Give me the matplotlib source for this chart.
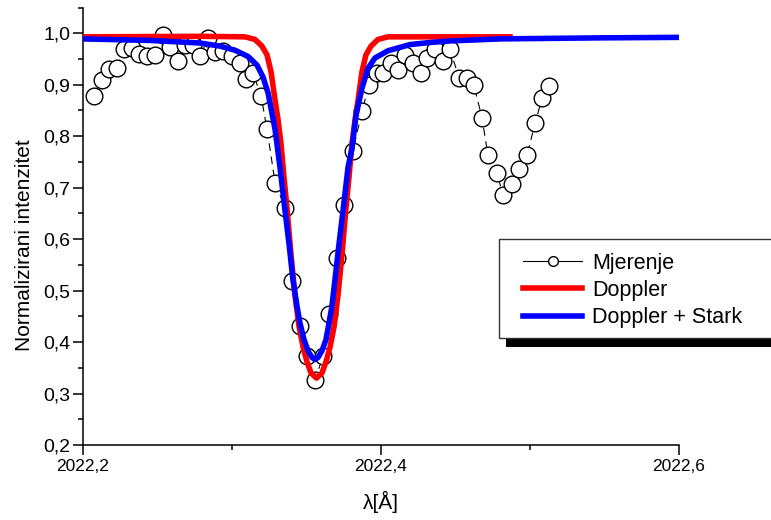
import numpy as np
import matplotlib
matplotlib.use("Agg")
import matplotlib.pyplot as plt
from matplotlib.lines import Line2D
from matplotlib.patches import Rectangle
from matplotlib.ticker import MultipleLocator, FuncFormatter

plt.rcParams['font.family'] = ['Liberation Sans', 'DejaVu Sans']

lam_meas = [2022.2074, 2022.2128, 2022.2174, 2022.2228, 2022.2275, 2022.2329, 2022.2376,
            2022.2430, 2022.2483, 2022.2537, 2022.2584, 2022.2638, 2022.2685, 2022.2738,
            2022.2785, 2022.2839, 2022.2886, 2022.2940, 2022.3000, 2022.3054, 2022.3094,
            2022.3141, 2022.3195, 2022.3235, 2022.3289, 2022.3356, 2022.3403, 2022.3456,
            2022.3503, 2022.3557, 2022.3611, 2022.3651, 2022.3705, 2022.3752, 2022.3812,
            2022.3872, 2022.3919, 2022.3973, 2022.4013, 2022.4067, 2022.4114, 2022.4161,
            2022.4215, 2022.4268, 2022.4309, 2022.4362, 2022.4416, 2022.4463, 2022.4523,
            2022.4577, 2022.4624, 2022.4678, 2022.4718, 2022.4779, 2022.4819, 2022.4879,
            2022.4926, 2022.4980, 2022.5034, 2022.5081, 2022.5128]
int_meas = [0.879, 0.909, 0.931, 0.932, 0.970, 0.972, 0.959,
            0.955, 0.957, 0.996, 0.973, 0.946, 0.978, 0.977,
            0.955, 0.990, 0.963, 0.966, 0.955, 0.942, 0.911,
            0.922, 0.879, 0.813, 0.710, 0.661, 0.519, 0.432,
            0.372, 0.327, 0.372, 0.455, 0.564, 0.667, 0.772,
            0.848, 0.899, 0.922, 0.922, 0.942, 0.928, 0.957,
            0.942, 0.922, 0.951, 0.969, 0.947, 0.969, 0.914,
            0.914, 0.899, 0.835, 0.763, 0.728, 0.685, 0.708,
            0.737, 0.763, 0.825, 0.874, 0.897]

# Doppler fit
lam_dop = [2022.2000, 2022.2785, 2022.3087, 2022.3154, 2022.3201, 2022.3235, 2022.3262,
           2022.3289, 2022.3309, 2022.3329, 2022.3349, 2022.3369, 2022.3396, 2022.3423,
           2022.3450, 2022.3477, 2022.3503, 2022.3530, 2022.3567, 2022.3604, 2022.3631,
           2022.3658, 2022.3685, 2022.3711, 2022.3738, 2022.3765, 2022.3785, 2022.3805,
           2022.3826, 2022.3846, 2022.3872, 2022.3899, 2022.3933, 2022.3980, 2022.4047,
           2022.4866]
int_dop = [0.993, 0.994, 0.993, 0.988, 0.975, 0.958, 0.925,
           0.870, 0.832, 0.785, 0.720, 0.660, 0.570, 0.490,
           0.430, 0.390, 0.362, 0.340, 0.330, 0.340, 0.362,
           0.390, 0.430, 0.490, 0.570, 0.660, 0.720, 0.785,
           0.832, 0.870, 0.925, 0.958, 0.975, 0.988, 0.993,
           0.993]

# Doppler + Stark fit
lam_ds = [2022.2000, 2022.2450, 2022.2785, 2022.2919, 2022.3020, 2022.3107, 2022.3168,
          2022.3208, 2022.3242, 2022.3268, 2022.3289, 2022.3322, 2022.3356, 2022.3383,
          2022.3409, 2022.3436, 2022.3456, 2022.3483, 2022.3510, 2022.3537, 2022.3557,
          2022.3577, 2022.3604, 2022.3631, 2022.3651, 2022.3671, 2022.3691, 2022.3718,
          2022.3745, 2022.3779, 2022.3805, 2022.3832, 2022.3872, 2022.3913, 2022.3960,
          2022.4047, 2022.4195, 2022.4329, 2022.4463, 2022.4799, 2022.5470, 2022.6007]
int_ds = [0.989, 0.986, 0.981, 0.975, 0.967, 0.955, 0.938,
          0.915, 0.884, 0.845, 0.813, 0.740, 0.655, 0.590,
          0.521, 0.470, 0.437, 0.405, 0.383, 0.370, 0.366,
          0.370, 0.383, 0.405, 0.437, 0.470, 0.521, 0.590,
          0.655, 0.740, 0.775, 0.840, 0.893, 0.932, 0.952,
          0.966, 0.978, 0.982, 0.985, 0.989, 0.991, 0.992]

W, H = 771, 520
fig = plt.figure(figsize=(W / 100, H / 100), dpi=100)
ax = fig.add_axes([83 / W, 1 - 445 / H, (679 - 83) / W, (445 - 7.5) / H])

ax.plot(lam_meas, int_meas, color='black', lw=0.8, ls=(0, (7, 5)),
        marker='o', ms=12, mfc='white', mec='black', mew=1.0, zorder=2)
ax.plot(lam_dop, int_dop, color='#ff0000', lw=4, zorder=3)
ax.plot(lam_ds, int_ds, color='#0000ff', lw=4, zorder=4)

ax.set_xlim(2022.2, 2022.6)
ax.set_ylim(0.2, 1.05)
ax.xaxis.set_major_locator(MultipleLocator(0.2))
ax.xaxis.set_minor_locator(MultipleLocator(0.1))
ax.yaxis.set_major_locator(MultipleLocator(0.1))
ax.yaxis.set_minor_locator(MultipleLocator(0.05))
ax.xaxis.set_major_formatter(FuncFormatter(lambda v, p: f"{v:.1f}".replace('.', ',')))
ax.yaxis.set_major_formatter(FuncFormatter(lambda v, p: f"{v:.1f}".replace('.', ',')))

for s in ['top', 'right']:
    ax.spines[s].set_visible(False)
for s in ['left', 'bottom']:
    ax.spines[s].set_linewidth(1.1)
ax.tick_params(which='major', direction='out', length=7, width=1.1)
ax.tick_params(which='minor', direction='out', length=3.5, width=1.1)
ax.tick_params(axis='y', pad=2, labelsize=14)
ax.tick_params(axis='x', pad=3, labelsize=12.5)

ax.set_xlabel('λ[Å]', fontsize=15, labelpad=12)
ax.set_ylabel('Normalizirani intenzitet', fontsize=15)
ax.yaxis.set_label_coords(-0.083, 0.457)

# legend box with shadow
fig.patches.append(Rectangle((506 / W, 1 - 347 / H), 300 / W, (347 - 246) / H,
                             transform=fig.transFigure, facecolor='black',
                             edgecolor='none', zorder=5))
fig.patches.append(Rectangle((499 / W, 1 - 338 / H), 300 / W, (338 - 239) / H,
                             transform=fig.transFigure, facecolor='white',
                             edgecolor='#333333', lw=1.0, zorder=6))

handles = [Line2D([], [], color='black', lw=0.8, marker='o', ms=7, mfc='white', mec='black'),
           Line2D([], [], color='#ff0000', lw=4),
           Line2D([], [], color='#0000ff', lw=4)]
leg = fig.legend(handles, ['Mjerenje', 'Doppler', 'Doppler + Stark'],
                 loc='upper left', bbox_to_anchor=(523 / W, 1 - 253 / H),
                 frameon=False, fontsize=15.5, borderpad=0, borderaxespad=0,
                 handlelength=2.75, handletextpad=0.45, labelspacing=0.28)
leg.set_zorder(7)

fig.savefig('out.png', dpi=100)
